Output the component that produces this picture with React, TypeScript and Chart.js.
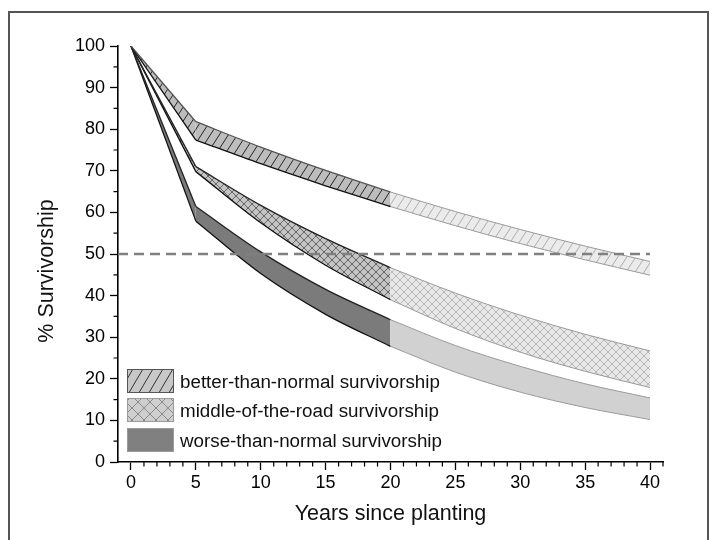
import React, { useEffect, useRef } from "react";
import { Chart, registerables } from "chart.js";

Chart.register(...registerables);

// ---- data ----
const years = [0, 5, 10, 15, 20, 25, 30, 35, 40];
const betterUpper = [100, 81.8, 75.7, 70.1, 64.9, 60.2, 55.9, 51.9, 48.2];
const betterLower = [100, 77.4, 71.7, 66.4, 61.4, 56.8, 52.5, 48.6, 44.9];
const middleUpper = [100, 71.0, 61.7, 53.7, 46.7, 40.6, 35.3, 30.7, 26.7];
const middleLower = [100, 69.8, 57.5, 47.3, 39.0, 32.1, 26.4, 21.8, 17.9];
const worseUpper = [100, 61.4, 50.5, 41.5, 34.2, 28.0, 23.0, 18.8, 15.4];
const worseLower = [100, 57.9, 45.3, 35.5, 27.8, 21.6, 16.8, 13.1, 10.2];
const thresholdValue = 50;
const thresholdYears = [-1, 40];
const legendLabels = [
  "better-than-normal survivorship",
  "middle-of-the-road survivorship",
  "worse-than-normal survivorship",
];
const xAxisTitle = "Years since planting";
const yAxisTitle = "% Survivorship";

const FONT = '"Liberation Sans", Arial, sans-serif';

type Kind = "solid" | "slash" | "cross";

function makePattern(
  ctx: CanvasRenderingContext2D,
  kind: Kind,
  bg: string,
  line: string,
  w: number,
  h: number
): CanvasPattern | string {
  if (kind === "solid") return bg;
  const c = document.createElement("canvas");
  c.width = w;
  c.height = h;
  const g = c.getContext("2d")!;
  g.fillStyle = bg;
  g.fillRect(0, 0, w, h);
  g.strokeStyle = line;
  g.lineWidth = 1;
  g.beginPath();
  for (let k = 0; k <= 2; k++) {
    g.moveTo(w * (k - 2), 2 * h);
    g.lineTo(w * (k + 1), -h);
  }
  if (kind === "cross") {
    for (let k = -1; k <= 1; k++) {
      g.moveTo(w * (k - 1), -h);
      g.lineTo(w * (k + 2), 2 * h);
    }
  }
  g.stroke();
  return ctx.createPattern(c, "repeat")!;
}

function pts(vals: number[], from: number, to: number) {
  const out: { x: number; y: number }[] = [];
  for (let i = from; i <= to; i++) out.push({ x: years[i], y: vals[i] });
  return out;
}

export default function App() {
  const ref = useRef<HTMLCanvasElement | null>(null);

  useEffect(() => {
    const canvas = ref.current!;
    const ctx = canvas.getContext("2d")!;

    const fills = {
      betterDark: makePattern(ctx, "slash", "#bdbdbd", "#262626", 9, 14),
      betterLight: makePattern(ctx, "slash", "#ebebeb", "#adadad", 9, 14),
      middleDark: makePattern(ctx, "cross", "#c4c4c4", "#666666", 8, 8),
      middleLight: makePattern(ctx, "cross", "#e8e8e8", "#b8b8b8", 8, 8),
      worseDark: "#7b7b7b",
      worseLight: "#d1d1d1",
    };
    const legendFills = [
      makePattern(ctx, "slash", "#c8c8c8", "#333333", 10, 17),
      makePattern(ctx, "cross", "#cfcfcf", "#8a8a8a", 12, 12),
      "#808080",
    ];
    const legendBorders = ["#555555", "#9a9a9a", "#9a9a9a"];

    const bands = [
      { up: betterUpper, lo: betterLower, dark: fills.betterDark, light: fills.betterLight, upEdge: "#555555" },
      { up: middleUpper, lo: middleLower, dark: fills.middleDark, light: fills.middleLight, upEdge: "#222222" },
      { up: worseUpper, lo: worseLower, dark: fills.worseDark, light: fills.worseLight, upEdge: "#222222" },
    ];

    const datasets: any[] = [
      {
        data: thresholdYears.map((x) => ({ x, y: thresholdValue })),
        borderColor: "#808080",
        borderWidth: 2.5,
        borderDash: [10, 6],
        pointRadius: 0,
        fill: false,
        tension: 0,
      },
    ];

    const segs = [
      { from: 0, to: 1, light: false, mono: false },
      { from: 1, to: 4, light: false, mono: true },
      { from: 4, to: 8, light: true, mono: true },
    ];

    for (const b of bands) {
      for (const s of segs) {
        const common = {
          pointRadius: 0,
          tension: 0,
          cubicInterpolationMode: s.mono ? "monotone" : "default",
          borderWidth: s.light ? 1 : 1.3,
        };
        datasets.push({
          ...common,
          data: pts(b.up, s.from, s.to),
          borderColor: s.light ? "#9a9a9a" : b.upEdge,
          backgroundColor: s.light ? b.light : b.dark,
          fill: "+1",
        });
        datasets.push({
          ...common,
          data: pts(b.lo, s.from, s.to),
          borderColor: s.light ? "#9a9a9a" : "#111111",
          fill: false,
        });
      }
    }

    const overlay = {
      id: "overlay",
      afterDraw(chart: any) {
        const c = chart.ctx as CanvasRenderingContext2D;
        const xs = chart.scales.x;
        const ys = chart.scales.y;
        c.save();
        // minor ticks
        c.strokeStyle = "#000";
        c.lineWidth = 1.2;
        c.beginPath();
        for (let v = 1; v <= 41; v++) {
          if (v % 5 === 0) continue;
          const px = xs.getPixelForValue(v);
          c.moveTo(px, ys.bottom);
          c.lineTo(px, ys.bottom + 4.5);
        }
        for (let v = 5; v < 100; v += 10) {
          const py = ys.getPixelForValue(v);
          c.moveTo(xs.left, py);
          c.lineTo(xs.left - 4.5, py);
        }
        c.stroke();

        // y axis title
        c.fillStyle = "#111";
        c.font = `21.5px ${FONT}`;
        c.textAlign = "center";
        c.textBaseline = "middle";
        c.translate(47, 271);
        c.rotate(-Math.PI / 2);
        c.fillText(yAxisTitle, 0, 0);
        c.setTransform(1, 0, 0, 1, 0, 0);

        // legend
        const tops = [369, 398, 428];
        legendLabels.forEach((label, i) => {
          c.fillStyle = legendFills[i] as any;
          c.fillRect(127, tops[i], 46, 23);
          c.strokeStyle = legendBorders[i];
          c.lineWidth = 1;
          c.strokeRect(127.5, tops[i] + 0.5, 46, 23);
          c.fillStyle = "#111";
          c.font = `18.8px ${FONT}`;
          c.textAlign = "left";
          c.textBaseline = "alphabetic";
          c.fillText(label, 180, tops[i] + 18.5);
        });

        // frame
        c.strokeStyle = "#555";
        c.lineWidth = 2;
        c.strokeRect(9, 12, 699, 600);
        c.restore();
      },
    };

    const chart = new Chart(canvas, {
      type: "line",
      data: { datasets },
      plugins: [overlay],
      options: {
        animation: false,
        responsive: false,
        devicePixelRatio: 1,
        layout: { padding: { left: 0, top: 46, right: 54, bottom: 0 } },
        plugins: {
          legend: { display: false },
          tooltip: { enabled: false },
          filler: { drawTime: "beforeDatasetsDraw" },
        } as any,
        scales: {
          x: {
            type: "linear",
            min: -1,
            max: 41,
            afterFit: (s: any) => {
              s.height = 78;
            },
            ticks: {
              stepSize: 5,
              includeBounds: false,
              padding: 2,
              color: "#000",
              maxRotation: 0,
              autoSkip: false,
              font: { family: FONT, size: 18 },
            },
            grid: {
              display: true,
              drawOnChartArea: false,
              drawTicks: true,
              tickLength: 8,
              tickColor: "#000",
              tickWidth: 1.3,
            },
            border: { display: true, color: "#000", width: 1.6 },
            title: {
              display: true,
              text: xAxisTitle,
              color: "#111",
              font: { family: FONT, size: 21.5 },
              padding: { top: 0, bottom: 13 },
            },
          },
          y: {
            type: "linear",
            min: 0,
            max: 100,
            afterFit: (s: any) => {
              s.width = 118;
            },
            ticks: {
              stepSize: 10,
              padding: 5,
              color: "#000",
              font: { family: FONT, size: 18 },
            },
            grid: {
              display: true,
              drawOnChartArea: false,
              drawTicks: true,
              tickLength: 8,
              tickColor: "#000",
              tickWidth: 1.3,
            },
            border: { display: true, color: "#000", width: 1.6 },
          },
        },
      } as any,
    });

    return () => chart.destroy();
  }, []);

  return (
    <div style={{ position: "absolute", left: 0, top: 0, width: 717, height: 540, background: "#fff" }}>
      <canvas ref={ref} width={717} height={540} style={{ display: "block" }} />
    </div>
  );
}
